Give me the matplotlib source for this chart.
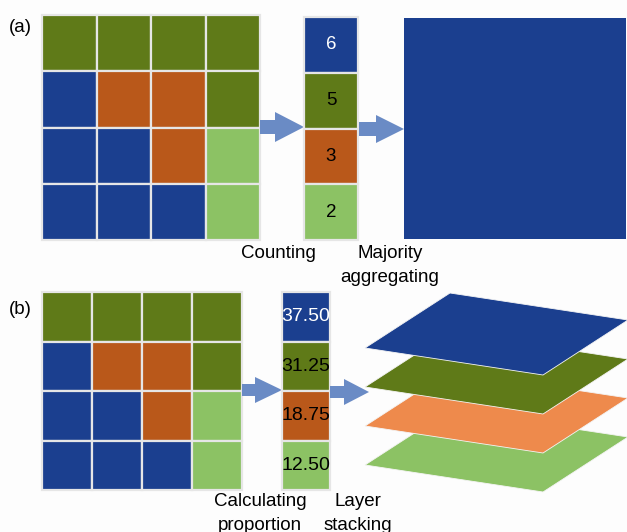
import matplotlib.pyplot as plt
from matplotlib.patches import Rectangle, Polygon

plt.rcParams['font.family'] = ['Liberation Sans', 'DejaVu Sans']

# land classes: 0 blue, 1 dark green, 2 orange, 3 light green
grid = [[1, 1, 1, 1],
        [0, 2, 2, 1],
        [0, 0, 2, 3],
        [0, 0, 0, 3]]
class_colors = ['#1b3f8f', '#5f7a18', '#b9581a', '#8cc264']
layer_colors = ['#1b3f8f', '#5f7a18', '#ee8a4c', '#8cc264']
counts = [6, 5, 3, 2]
proportions = [37.50, 31.25, 18.75, 12.50]
value_text_colors = ['white', 'black', 'black', 'black']
panel_labels = ['(a)', '(b)']
steps_a = [['Counting'], ['Majority', 'aggregating']]
steps_b = [['Calculating', 'proportion'], ['Layer', 'stacking']]
majority_class = 0

arrow_col = '#6a8bc5'
edge_col = '#e6e6e6'
fs = 13.5


def draw_grid(ax, x0, y0, w, h):
    cw, ch = w / 4, h / 4
    for i, row in enumerate(grid):
        for j, c in enumerate(row):
            ax.add_patch(Rectangle((x0 + j * cw, y0 + i * ch), cw, ch,
                                   fc=class_colors[c], ec=edge_col, lw=1.6))


def draw_column(ax, x0, y0, w, h, labels, size):
    ch = h / 4
    for k, lab in enumerate(labels):
        ax.add_patch(Rectangle((x0, y0 + k * ch), w, ch,
                               fc=class_colors[k], ec=edge_col, lw=1.6))
        ax.text(x0 + w / 2, y0 + (k + 0.5) * ch, lab, ha='center', va='center',
                fontsize=size, color=value_text_colors[k])


def draw_arrow(ax, x0, x1, yc, sw, hw, hl):
    xh = x1 - hl
    pts = [(x0, yc - sw), (xh, yc - sw), (xh, yc - hw), (x1, yc),
           (xh, yc + hw), (xh, yc + sw), (x0, yc + sw)]
    ax.add_patch(Polygon(pts, closed=True, fc=arrow_col, ec='none'))


def draw_lines(ax, xc, y0, lines):
    for i, s in enumerate(lines):
        ax.text(xc, y0 + i * 24, s, ha='center', va='center', fontsize=fs)


fig = plt.figure(figsize=(6.27, 5.32), dpi=100)
fig.patch.set_facecolor('#fdfdfd')
ax = fig.add_axes([0, 0, 1, 1])
ax.set_xlim(0, 627)
ax.set_ylim(532, 0)
ax.axis('off')

# (a) counting + majority
ax.text(9, 27, panel_labels[0], ha='left', va='center', fontsize=fs)
draw_grid(ax, 42, 15, 218, 225)
draw_arrow(ax, 260, 304, 127, 7, 15, 29)
draw_column(ax, 304, 17, 54, 223, [str(v) for v in counts], fs)
draw_arrow(ax, 359, 404, 129, 7, 14, 28)
ax.add_patch(Rectangle((404, 18), 222, 221, fc=class_colors[majority_class], ec='none'))
draw_lines(ax, 278, 253, steps_a[0])
draw_lines(ax, 390, 253, steps_a[1])

# (b) proportion + layer stacking
ax.text(9, 309, panel_labels[1], ha='left', va='center', fontsize=fs)
draw_grid(ax, 42, 292, 200, 198)
draw_arrow(ax, 242, 282, 390, 6, 13, 27)
draw_column(ax, 282, 292, 48, 198, ['%.2f' % p for p in proportions], 14)
draw_arrow(ax, 330, 369, 392, 6, 13, 25)

for k in range(3, -1, -1):
    lx, ly = 365, 348 + k * 39
    pts = [(lx, ly), (lx + 85, ly - 55), (lx + 263, ly - 28), (lx + 178, ly + 27)]
    ax.add_patch(Polygon(pts, closed=True, fc=layer_colors[k], ec='#f4f4f4', lw=0.6))

draw_lines(ax, 260, 502, steps_b[0])
draw_lines(ax, 358, 502, steps_b[1])

fig.savefig('out.png', dpi=100, facecolor=fig.get_facecolor())
